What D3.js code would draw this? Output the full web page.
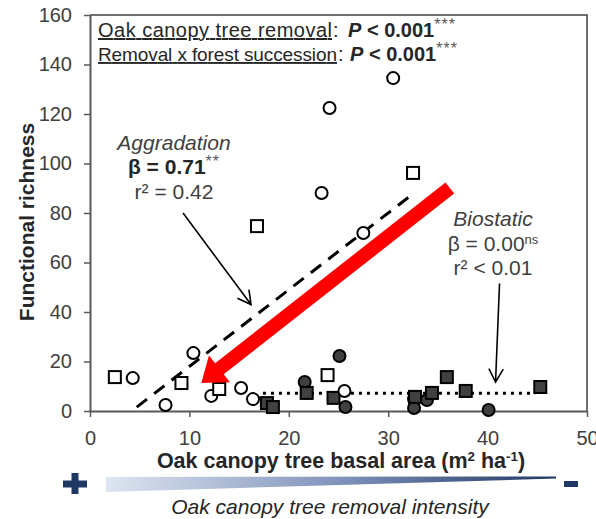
<!DOCTYPE html>
<html><head><meta charset="utf-8">
<script src="https://cdn.jsdelivr.net/npm/d3@7/dist/d3.min.js"></script>
<style>
body{margin:0;background:#fff}
text{font-family:"Liberation Sans",Arial,sans-serif;white-space:pre}
</style>
</head><body>
<svg id="c" width="596" height="519"></svg>
<script>
// ---- data (x = oak canopy basal area, y = functional richness) ----
const openCircleX = [30.5, 24.1, 23.3, 27.5, 4.3, 10.4, 7.6, 12.2, 15.2, 16.4, 25.6];
const openCircleY = [134.5, 122.4, 88.1, 71.9, 13.3, 23.4, 2.4, 6.1, 9.3, 4.8, 8.1];
const openSquareX = [2.5, 9.2, 13.0, 16.8, 23.9, 32.5];
const openSquareY = [13.7, 11.3, 8.9, 74.7, 14.5, 96.2];
const filledCircleX = [21.6, 25.1, 25.7, 32.6, 32.6, 33.9, 40.1];
const filledCircleY = [11.7, 22.2, 1.6, 4.8, 1.2, 4.4, 0.4];
const filledSquareX = [17.8, 18.4, 21.8, 24.5, 32.7, 34.4, 35.9, 37.8, 45.3];
const filledSquareY = [3.2, 1.6, 7.3, 5.3, 5.7, 7.3, 13.7, 8.1, 9.7];
const xTicks = [0, 10, 20, 30, 40, 50];
const yTicks = [0, 20, 40, 60, 80, 100, 120, 140, 160];
// regression fits
const aggradationFit = {intercept: -13.0, slope: 3.1, xMin: 4.7, xMax: 32.7};
const biostaticFit = {intercept: 7.2, slope: 0.0, xMin: 17.4, xMax: 44.8};
// annotation arrows [x0,y0,x1,y1] in data units
const aggArrow = [9.36, 80, 16.2, 43];
const bioArrow = [41.2, 51.5, 40.8, 11.7];
const redArrow = [36.2, 90.1, 11.2, 11.3];

const svg = d3.select('#c');
const x = d3.scaleLinear().domain([0, 50]).range([90, 587]);
const y = d3.scaleLinear().domain([0, 160]).range([411, 15]);
const zip = (a, b) => a.map((v, i) => [v, b[i]]);

// frame (top/right)
svg.append('path').attr('d', `M${x(0)},${y(160)}H${x(50)}V${y(0)}`)
  .attr('fill', 'none').attr('stroke', '#404040').attr('stroke-width', 1.5);

// axes
const gy = svg.append('g').attr('transform', `translate(${x(0)},0)`)
  .call(d3.axisLeft(y).tickValues(yTicks).tickSize(6).tickSizeOuter(0).tickPadding(12));
const gx = svg.append('g').attr('transform', `translate(0,${y(0)})`)
  .call(d3.axisBottom(x).tickValues(xTicks).tickSize(6).tickSizeOuter(0).tickPadding(14));
[gx, gy].forEach(g => {
  g.select('.domain').attr('stroke', '#595959').attr('stroke-width', 2);
  g.selectAll('.tick line').attr('stroke', '#595959').attr('stroke-width', 1.5);
  g.selectAll('.tick text').attr('font-size', 20).attr('fill', '#404040')
    .attr('font-family', '"Liberation Sans",Arial,sans-serif');
});

// fitted lines
function fitLine(f) {
  return [[f.xMin, f.intercept + f.slope * f.xMin], [f.xMax, f.intercept + f.slope * f.xMax]];
}
const line = d3.line().x(d => x(d[0])).y(d => y(d[1]));
svg.append('path').attr('d', line(fitLine(aggradationFit)))
  .attr('stroke', '#000').attr('stroke-width', 3).attr('stroke-dasharray', '13 9').attr('fill', 'none');
svg.append('path').attr('d', line(fitLine(biostaticFit)))
  .attr('stroke', '#000').attr('stroke-width', 3).attr('stroke-dasharray', '3 5').attr('fill', 'none');

// points
const S = 12;
function squares(px, py, fill) {
  svg.append('g').selectAll('rect').data(zip(px, py)).join('rect')
    .attr('x', d => x(d[0]) - S / 2).attr('y', d => y(d[1]) - S / 2)
    .attr('width', S).attr('height', S)
    .attr('fill', fill).attr('stroke', '#000').attr('stroke-width', 2);
}
function circles(px, py, fill) {
  svg.append('g').selectAll('circle').data(zip(px, py)).join('circle')
    .attr('cx', d => x(d[0])).attr('cy', d => y(d[1])).attr('r', 6)
    .attr('fill', fill).attr('stroke', '#000').attr('stroke-width', 2);
}
circles(filledCircleX, filledCircleY, '#404040');
squares(filledSquareX, filledSquareY, '#404040');
circles(openCircleX, openCircleY, '#fff');
squares(openSquareX, openSquareY, '#fff');

// red arrow
(function () {
  const x0 = x(redArrow[0]), y0 = y(redArrow[1]), x1 = x(redArrow[2]), y1 = y(redArrow[3]);
  const L = Math.hypot(x1 - x0, y1 - y0), ux = (x1 - x0) / L, uy = (y1 - y0) / L;
  const px = -uy, py = ux, w = 7, hw = 17, hl = 23;
  const bx = x1 - ux * hl, by = y1 - uy * hl;
  const pts = [[x0 + px * w, y0 + py * w], [bx + px * w, by + py * w], [bx + px * hw, by + py * hw],
    [x1, y1], [bx - px * hw, by - py * hw], [bx - px * w, by - py * w], [x0 - px * w, y0 - py * w]];
  svg.append('polygon').attr('points', pts.map(p => p.join(',')).join(' ')).attr('fill', '#ff0000');
})();

// annotation arrows
function thinArrow(a) {
  const x0 = x(a[0]), y0 = y(a[1]), x1 = x(a[2]), y1 = y(a[3]);
  const ang = Math.atan2(y1 - y0, x1 - x0), h = 15, sp = 0.5;
  svg.append('path')
    .attr('d', `M${x0},${y0}L${x1},${y1}M${x1 - h * Math.cos(ang - sp)},${y1 - h * Math.sin(ang - sp)}L${x1},${y1}L${x1 - h * Math.cos(ang + sp)},${y1 - h * Math.sin(ang + sp)}`)
    .attr('fill', 'none').attr('stroke', '#000').attr('stroke-width', 1.6);
}
thinArrow(aggArrow);
thinArrow(bioArrow);

// rich text helper
function rich(tx, ty, anchor, parts, size) {
  const t = svg.append('text').attr('x', tx).attr('y', ty).attr('text-anchor', anchor).attr('font-size', size);
  let shifted = 0;
  parts.forEach(p => {
    const s = t.append('tspan').text(p.t).attr('fill', p.fill || '#262626');
    if (p.b) s.attr('font-weight', 'bold');
    if (p.i) s.attr('font-style', 'italic');
    if (p.u) s.attr('text-decoration', 'underline');
    if (p.sup) { s.attr('dy', -7 - shifted).attr('font-size', p.size || size * 0.62); shifted = -7; if (p.ls) s.attr('letter-spacing', p.ls); }
    else if (shifted) { s.attr('dy', 7); shifted = 0; }
    if (p.size && !p.sup) s.attr('font-size', p.size);
  });
  return t;
}
// top statistics box
function statLine(label, fs, lx, lw, py, px) {
  svg.append('text').attr('x', lx).attr('y', py).attr('font-size', fs).attr('fill', '#262626')
    .attr('text-decoration', 'underline').attr('textLength', lw).attr('lengthAdjust', 'spacing').text(label);
  svg.append('text').attr('x', lx + lw + 1).attr('y', py).attr('font-size', 20).attr('fill', '#262626').text(':');
  rich(px, py, 'start', [{t: 'P', b: 1, i: 1}, {t: ' < 0.001', b: 1}, {t: '***', sup: 1, size: 16, ls: 1, fill: '#595959'}], 20);
}
statLine('Oak canopy tree removal', 20, 98, 234, 37, 348);
statLine('Removal x forest succession', 19, 98, 239, 61, 350);

rich(174, 150, 'middle', [{t: 'Aggradation', i: 1, fill: '#404040'}], 21);
rich(174, 174, 'middle', [{t: 'β = 0.71', b: 1, fill: '#262626'}, {t: '**', sup: 1, size: 16, ls: 1, fill: '#595959'}], 21);
rich(174, 199, 'middle', [{t: 'r² = 0.42', fill: '#404040'}], 21);

rich(493, 226, 'middle', [{t: 'Biostatic', i: 1, fill: '#404040'}], 21);
rich(493, 251, 'middle', [{t: 'β = 0.00', fill: '#404040'}, {t: 'ns', sup: 1, fill: '#404040'}], 21);
rich(493, 275, 'middle', [{t: 'r² < 0.01', fill: '#404040'}], 21);

// axis titles
rich(341, 468, 'middle', [{t: 'Oak canopy tree basal area (m', b: 1}, {t: '2', b: 1, sup: 1}, {t: ' ha', b: 1}, {t: '-1', b: 1, sup: 1}, {t: ')', b: 1}], 21.5);
svg.append('text').attr('transform', 'translate(34,222) rotate(-90)').attr('text-anchor', 'middle')
  .attr('font-size', 21).attr('font-weight', 'bold').attr('fill', '#262626').text('Functional richness');

// removal intensity gradient
const defs = svg.append('defs');
const grad = defs.append('linearGradient').attr('id', 'g1');
grad.append('stop').attr('offset', '0%').attr('stop-color', '#dde5f0');
grad.append('stop').attr('offset', '50%').attr('stop-color', '#8496bd');
grad.append('stop').attr('offset', '100%').attr('stop-color', '#1f3864');
svg.append('polygon').attr('points', '106,477 556,476.5 556,478.5 106,492').attr('fill', 'url(#g1)');
svg.append('rect').attr('x', 63).attr('y', 480.5).attr('width', 24).attr('height', 7).attr('fill', '#1f3864');
svg.append('rect').attr('x', 71.5).attr('y', 473).attr('width', 7).attr('height', 21).attr('fill', '#1f3864');
svg.append('rect').attr('x', 564).attr('y', 481).attr('width', 14).attr('height', 6).attr('fill', '#1f3864');
rich(330, 514, 'middle', [{t: 'Oak canopy tree removal intensity', i: 1, fill: '#262626'}], 21);
</script>
</body></html>
